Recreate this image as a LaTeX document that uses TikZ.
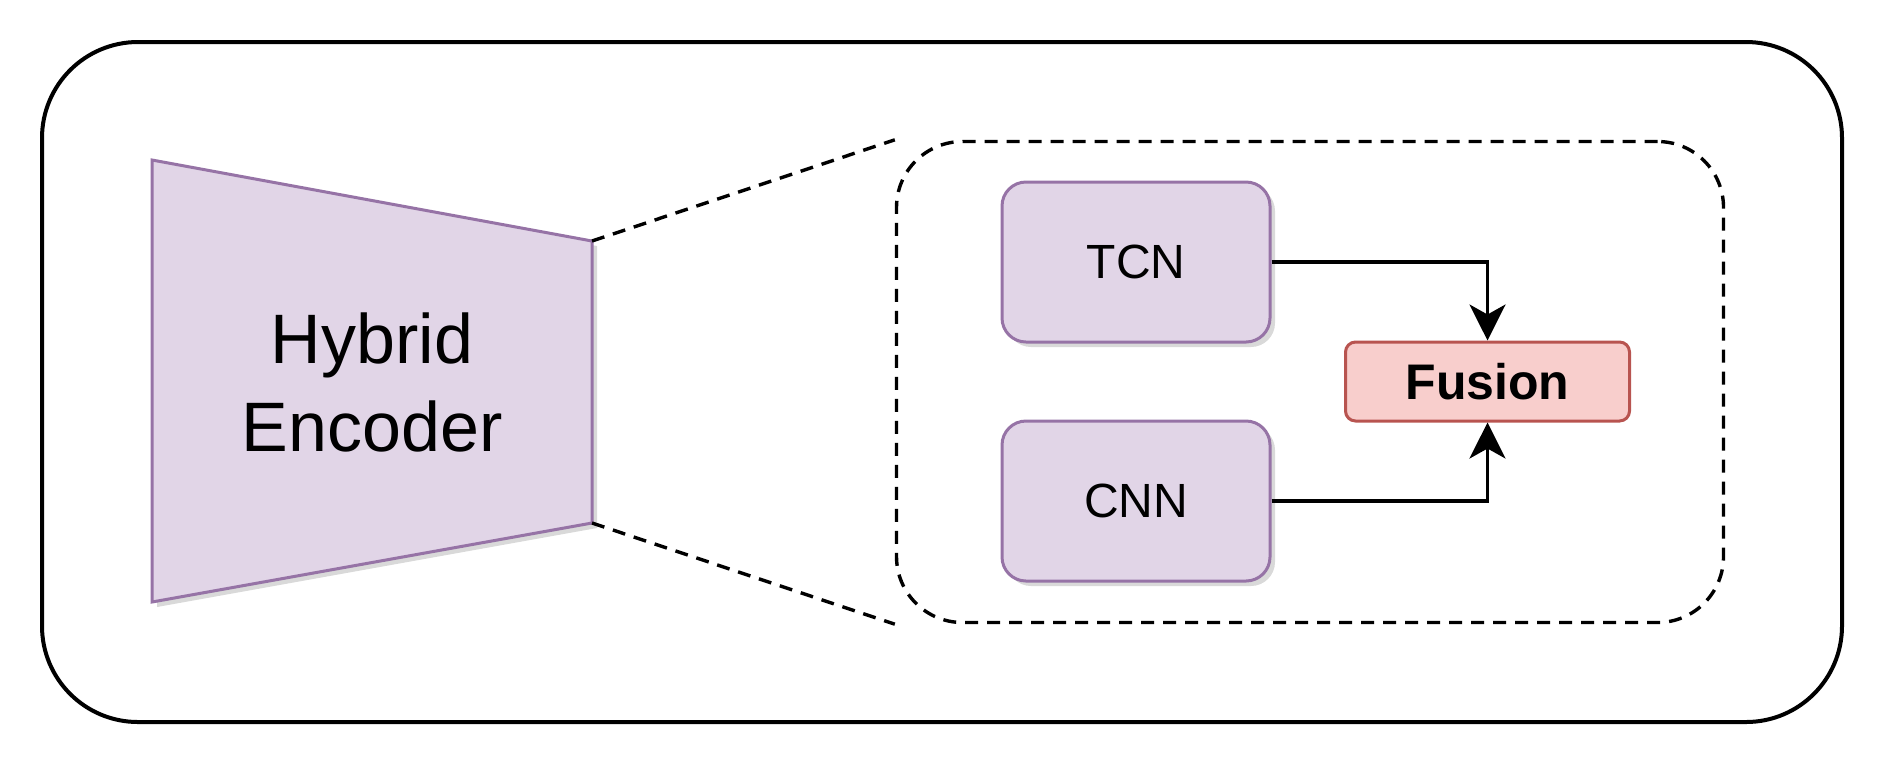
\documentclass[tikz,border=0pt]{standalone}
\usepackage{fontspec}
\setmainfont{Liberation Sans}
\usetikzlibrary{arrows.meta,shadows}

\definecolor{encfill}{HTML}{E1D5E7}
\definecolor{encdraw}{HTML}{9673A6}
\definecolor{fusfill}{HTML}{F8CECC}
\definecolor{fusdraw}{HTML}{B85450}

\tikzset{
  softshadow/.style={drop shadow={opacity=0.3, shadow xshift=2.5pt, shadow yshift=-2.5pt}},
  block/.style={draw=encdraw, fill=encfill, line width=1.5pt, rounded corners=12pt,
    minimum width=134pt, minimum height=80pt, font=\fontsize{24}{28}\selectfont, softshadow},
  zoomline/.style={line width=1.7pt, dash pattern=on 6.5pt off 4.5pt},
  link/.style={line width=1.7pt, -{Stealth[length=18pt,width=18pt,inset=5pt]}}
}

\begin{document}
\begin{tikzpicture}[x=0.5pt,y=-0.5pt]
  \useasboundingbox (0,0) rectangle (1888,768);
  \node[draw, line width=2pt, rounded corners=48pt, minimum width=900pt,
    minimum height=340pt] (frame) at (942,382) {};

  % encoder
  \coordinate (enc-nw) at (152,160);
  \coordinate (enc-ne) at (592,241);
  \coordinate (enc-se) at (592,523);
  \coordinate (enc-sw) at (152,602);
  \path[draw=encdraw, fill=encfill, line width=1.5pt, softshadow]
    (enc-nw) -- (enc-ne) -- (enc-se) -- (enc-sw) -- cycle;
  \node[align=center, font=\fontsize{35}{44}\selectfont] (enc) at (372,382)
    {Hybrid\\Encoder};

  % zoomed view
  \node[draw, zoomline, rounded corners=33pt, minimum width=413.5pt,
    minimum height=240.5pt] (zoom) at (1310,382) {};
  \draw[zoomline] (enc-ne) -- (zoom.north west);
  \draw[zoomline] (enc-se) -- (zoom.south west);

  \node[block] (tcn) at (1136,262) {TCN};
  \node[block] (cnn) at (1136,501) {CNN};
  \node[draw=fusdraw, fill=fusfill, line width=1.5pt, rounded corners=5pt,
    minimum width=142pt, minimum height=39.5pt,
    font=\bfseries\fontsize{25}{30}\selectfont] (fusion) at (1487.5,381.5) {Fusion};

  \draw[link] (tcn.east) -| (fusion.north);
  \draw[link] (cnn.east) -| (fusion.south);
\end{tikzpicture}
\end{document}
